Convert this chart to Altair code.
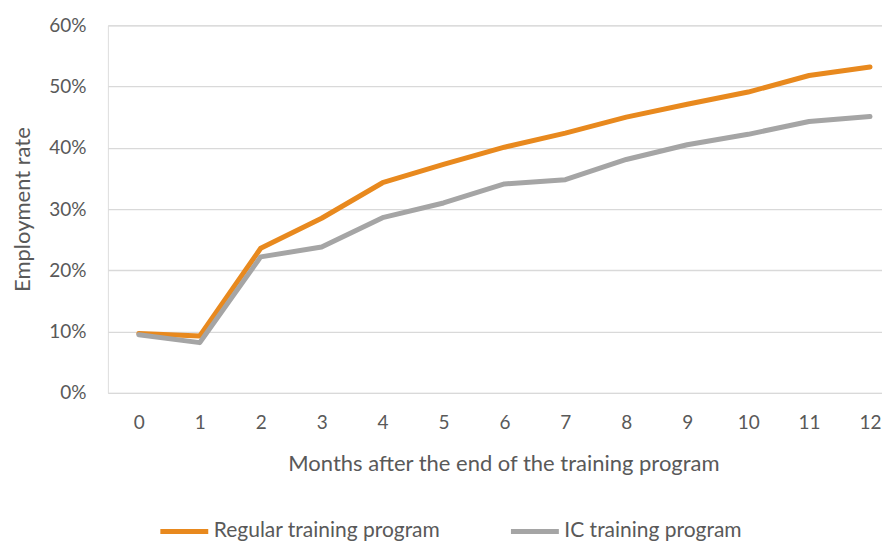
import altair as alt
import pandas as pd

months = list(range(13))
regular = [0.097, 0.093, 0.236, 0.285, 0.343, 0.373, 0.401, 0.424, 0.450, 0.471, 0.491, 0.518, 0.532]
ic = [0.095, 0.082, 0.222, 0.238, 0.286, 0.310, 0.341, 0.348, 0.381, 0.405, 0.422, 0.443, 0.451]
series_names = ["Regular training program", "IC training program"]
colors = ["#E8891E", "#A5A5A5"]

rows = []
for m, r, i in zip(months, regular, ic):
    rows.append({"month": m, "rate": r, "series": series_names[0]})
    rows.append({"month": m, "rate": i, "series": series_names[1]})
df = pd.DataFrame(rows)

FONT = "Lato"
TXT = "#595959"

chart = alt.Chart(df).mark_line(strokeWidth=5, strokeCap="round", strokeJoin="round").encode(
    x=alt.X("month:Q",
            scale=alt.Scale(domain=[-0.508, 12.197], nice=False, zero=False),
            axis=alt.Axis(values=months, format="d", grid=False, domain=False, ticks=False,
                          labelPadding=21, labelFontSize=19, labelColor=TXT, labelFont=FONT,
                          title="Months after the end of the training program",
                          titleFontSize=22, titleColor=TXT, titleFont=FONT, titleFontWeight="normal",
                          titleX=396, titleY=71, titleBaseline="middle")),
    y=alt.Y("rate:Q",
            scale=alt.Scale(domain=[0, 0.6], nice=False),
            axis=alt.Axis(values=[0, 0.1, 0.2, 0.3, 0.4, 0.5, 0.6], format=".0%",
                          domain=False, ticks=False, gridColor="#D9D9D9", gridWidth=1.3,
                          labelPadding=22, labelFontSize=19, labelColor=TXT, labelFont=FONT,
                          title="Employment rate", titleFontSize=22, titleColor=TXT, titleFont=FONT,
                          titleFontWeight="normal", titleX=-85, titleY=184, titleBaseline="middle")),
    color=alt.Color("series:N",
                    scale=alt.Scale(domain=series_names, range=colors),
                    sort=series_names,
                    legend=alt.Legend(title=None, orient="none", direction="horizontal",
                                      legendX=50, legendY=480, padding=0,
                                      symbolType="stroke", symbolSize=2300, symbolStrokeWidth=5,
                                      labelFontSize=21, labelColor=TXT, labelFont=FONT,
                                      labelLimit=400, labelOffset=3, columnPadding=60)),
).properties(
    width=775, height=368,
    padding={"left": 4, "top": 8, "right": 0, "bottom": 0},
).configure_view(stroke=None).configure(background="white")

chart.save("out.html", embed_options={"renderer": "svg", "actions": False})
